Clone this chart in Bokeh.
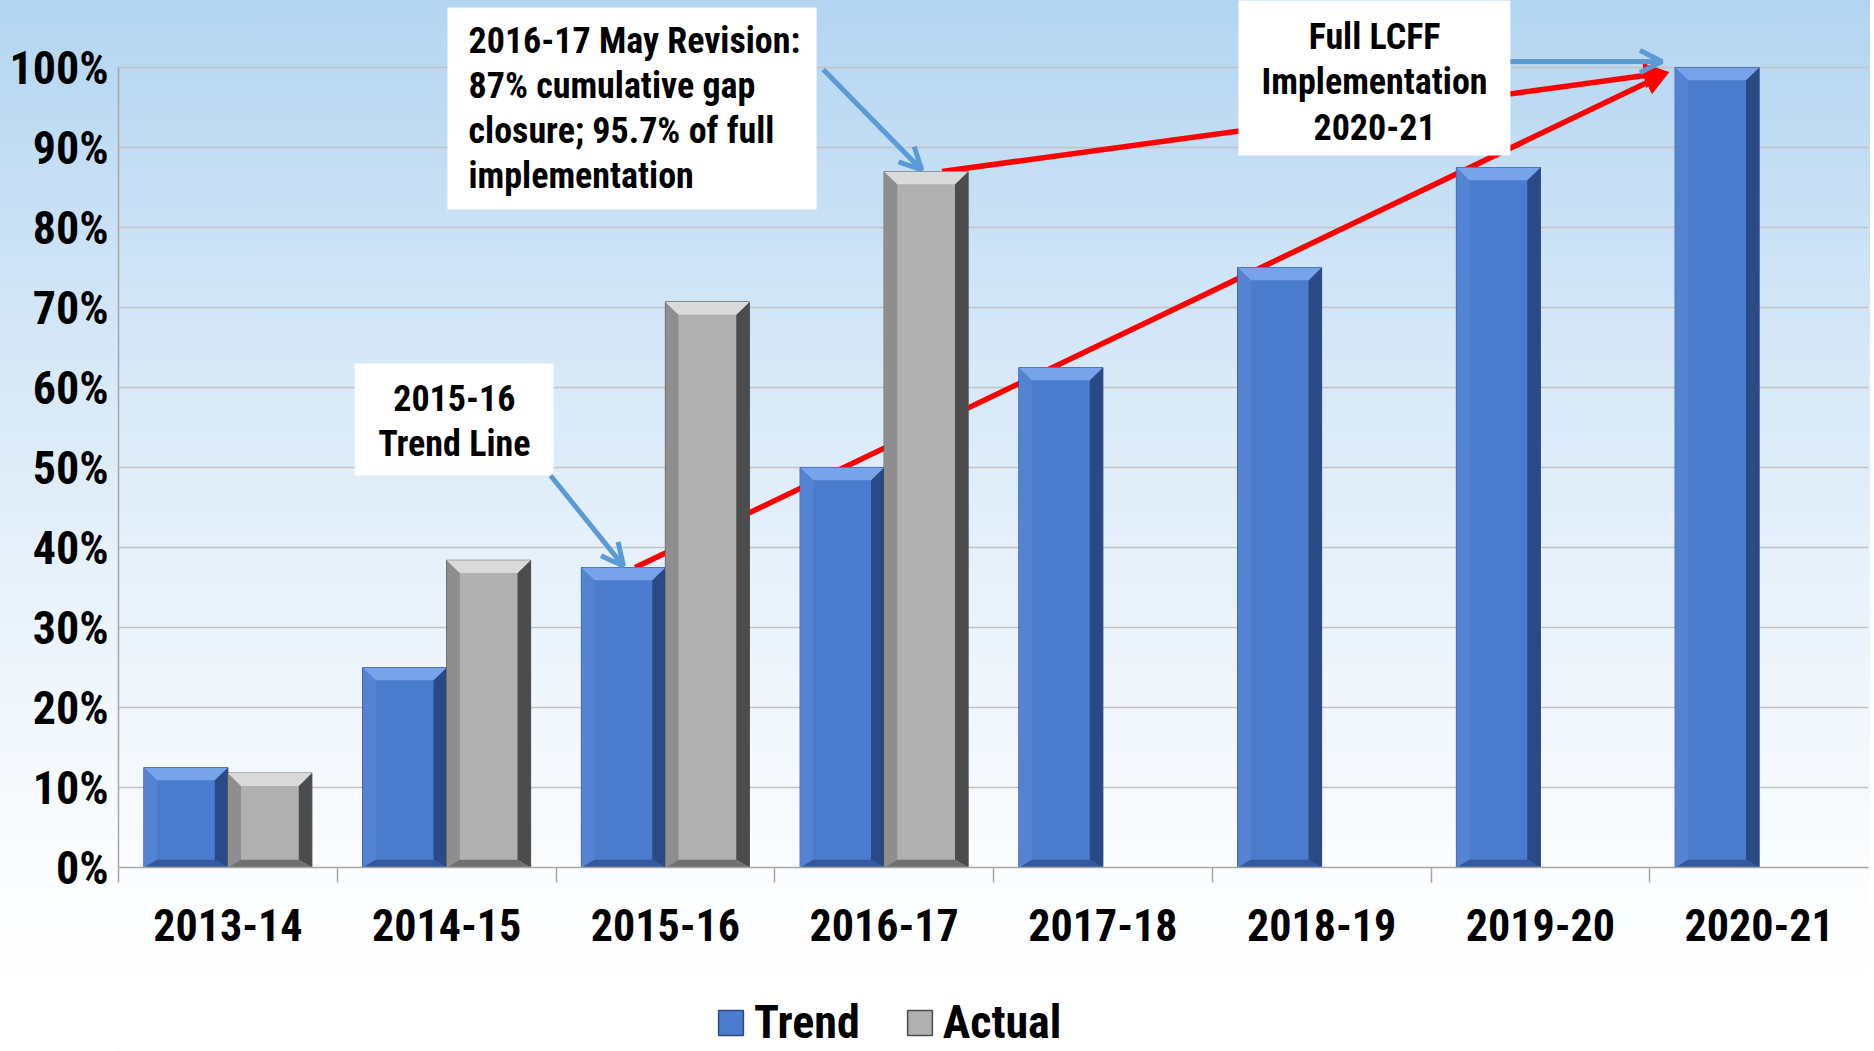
from bokeh.plotting import figure
from bokeh.layouts import column
from bokeh.models import (Range1d, FixedTicker, Legend, LegendItem, Label,
                          BoxAnnotation, Arrow, NormalHead, OpenHead)
from bokeh.embed import file_html
from bokeh.resources import INLINE

# ---------------- data ----------------
years = ["2013-14", "2014-15", "2015-16", "2016-17",
         "2017-18", "2018-19", "2019-20", "2020-21"]
trend = [12.5, 25.0, 37.5, 50.0, 62.5, 75.0, 87.5, 100.0]
actual = [11.8, 38.4, 70.7, 87.0]
y_ticks = [0, 10, 20, 30, 40, 50, 60, 70, 80, 90, 100]
y_tick_labels = ["0%", "10%", "20%", "30%", "40%", "50%",
                 "60%", "70%", "80%", "90%", "100%"]
series_names = ["Trend", "Actual"]

# ---------------- style ----------------
FONT = "Roboto Condensed, Roboto, sans-serif"
BW = 0.384            # bar width in category units
DX, DY = 0.06, 1.6    # bevel size (x in category units, y in %)
BLUE = dict(face="#4a7bcd", top="#76a3ea", left="#5583d3", right="#2a4a86", bottom="#34599c")
GRAY = dict(face="#b0b0b0", top="#dadada", left="#8e8e8e", right="#4c4c4c", bottom="#707070")

p = figure(width=1870, height=993, x_range=Range1d(0, 8), y_range=Range1d(0, 108.375),
           output_backend="svg", toolbar_location=None,
           min_border_left=118, min_border_right=2, min_border_top=0, min_border_bottom=126)
p.background_fill_color = None
p.border_fill_color = None
p.outline_line_color = None
p.styles = {"background-image":
            "linear-gradient(to bottom, #b3d5f1 0%, #d3e6f7 32%, #eaf3fb 62%, #fafcfe 86%, #ffffff 100%)"}

# axes
xa = p.xaxis[0]
xa.ticker = FixedTicker(ticks=[i + 0.5 for i in range(len(years))],
                        minor_ticks=[float(i) for i in range(len(years))])
xa.major_label_overrides = {i + 0.5: y for i, y in enumerate(years)}
xa.major_tick_out = 0
xa.major_tick_in = 0
xa.minor_tick_out = 15
xa.minor_tick_in = 0
xa.minor_tick_line_color = "#a6a6a6"
xa.minor_tick_line_width = 1.5
xa.axis_line_color = "#a6a6a6"
xa.axis_line_width = 1.5
xa.major_label_standoff = 26
xa.major_label_text_font = FONT
xa.major_label_text_font_style = "bold"
xa.major_label_text_font_size = "44px"
xa.major_label_text_color = "black"

ya = p.yaxis[0]
ya.ticker = FixedTicker(ticks=y_ticks)
ya.major_label_overrides = {t: l for t, l in zip(y_ticks, y_tick_labels)}
ya.bounds = (0, 100)
ya.major_tick_out = 0
ya.major_tick_in = 0
ya.minor_tick_out = 0
ya.minor_tick_in = 0
ya.axis_line_color = "#a6a6a6"
ya.axis_line_width = 1.5
ya.major_label_standoff = 10
ya.major_label_text_font = FONT
ya.major_label_text_font_style = "bold"
ya.major_label_text_font_size = "46px"
ya.major_label_text_color = "black"

p.xgrid.visible = False
p.ygrid.grid_line_color = "#c3c3c3"
p.ygrid.grid_line_width = 1.5

# ---------------- red trend arrows (behind bars) ----------------
end_x = len(years) - 0.5 - BW - 0.03
end_y = trend[-1] - 0.6
red1 = Arrow(x_start=2 + 0.5 - BW * 0.36, y_start=trend[2], x_end=end_x, y_end=end_y,
             line_color="#ff0000", line_width=5.5, level="underlay",
             end=NormalHead(size=24, fill_color="#ff0000", line_color="#ff0000"))
red2 = Arrow(x_start=3 + 0.5 + BW * 0.69, y_start=actual[3], x_end=end_x, y_end=end_y,
             line_color="#ff0000", line_width=5.5, level="underlay",
             end=NormalHead(size=24, fill_color="#ff0000", line_color="#ff0000"))
p.add_layout(red1)
p.add_layout(red2)

# ---------------- bars with bevel ----------------
def bevel_sources(xc, tops):
    parts = {k: dict(xs=[], ys=[]) for k in ("top", "bottom", "left", "right")}
    for x, t in zip(xc, tops):
        L, R, B, T = x - BW / 2, x + BW / 2, 0.0, t
        parts["top"]["xs"].append([L, R, R - DX, L + DX])
        parts["top"]["ys"].append([T, T, T - DY, T - DY])
        parts["bottom"]["xs"].append([L, R, R - DX, L + DX])
        parts["bottom"]["ys"].append([B, B, B + DY * 0.6, B + DY * 0.6])
        parts["left"]["xs"].append([L, L + DX, L + DX, L])
        parts["left"]["ys"].append([B, B + DY * 0.6, T - DY, T])
        parts["right"]["xs"].append([R, R - DX, R - DX, R])
        parts["right"]["ys"].append([B, B + DY * 0.6, T - DY, T])
    return parts

def draw_bars(xc, tops, pal):
    r = p.vbar(x=xc, top=tops, bottom=0, width=BW, fill_color=pal["face"],
               line_color=pal["right"], line_width=1)
    parts = bevel_sources(xc, tops)
    for k in ("left", "right", "bottom", "top"):
        p.patches(xs=parts[k]["xs"], ys=parts[k]["ys"], fill_color=pal[k],
                  line_color=None)
    return r

trend_x = [i + 0.5 - BW / 2 for i in range(len(trend))]
actual_x = [i + 0.5 + BW / 2 for i in range(len(actual))]
draw_bars(trend_x, trend, BLUE)
draw_bars(actual_x, actual, GRAY)

# ---------------- annotation boxes ----------------
box_style = dict(fill_color="white", fill_alpha=1.0, line_color=None, level="annotation")
p.add_layout(BoxAnnotation(left=1.504, right=3.191, top=107.5, bottom=82.25, **box_style))
p.add_layout(BoxAnnotation(left=1.079, right=1.989, top=63.0, bottom=49.0, **box_style))
p.add_layout(BoxAnnotation(left=5.120, right=6.363, top=110.0, bottom=89.0, **box_style))

lab_style = dict(text_font=FONT, text_font_style="bold", text_font_size="36px",
                 text_color="black", text_line_height=1.075, text_baseline="top")
p.add_layout(Label(x=1.600, y=105.95, text_align="left",
                   text="2016-17 May Revision:\n87% cumulative gap\nclosure; 95.7% of full\nimplementation",
                   **lab_style))
p.add_layout(Label(x=1.535, y=61.25, text_align="center",
                   text="2015-16\nTrend Line", **lab_style))
p.add_layout(Label(x=5.742, y=106.4, text_align="center",
                   text="Full LCFF\nImplementation\n2020-21", **lab_style))

# ---------------- blue pointer arrows ----------------
BLUE_ARROW = "#5b9bd5"
def blue_arrow(xs, ys, xe, ye):
    p.add_layout(Arrow(x_start=xs, y_start=ys, x_end=xe, y_end=ye,
                       line_color=BLUE_ARROW, line_width=5,
                       end=OpenHead(size=22, line_color=BLUE_ARROW, line_width=5)))

blue_arrow(3.222, 99.75, 3 + 0.5 + BW / 2 - 0.02, actual[3] + 0.2)
blue_arrow(1.975, 49.0, 2 + 0.5 - BW / 2, trend[2] + 0.2)
blue_arrow(6.363, 100.75, 7 + 0.5 - BW - 0.06, trend[7] + 0.75)

# ---------------- legend strip (separate figure below) ----------------
q = figure(width=1870, height=56, x_range=Range1d(0, 1), y_range=Range1d(0, 1),
           output_backend="svg", toolbar_location=None, min_border=0)
q.axis.visible = False
q.grid.visible = False
q.outline_line_color = None
q.background_fill_color = "white"
q.border_fill_color = "white"
# hidden proxies (outside the visible range) that only supply legend swatches
lt = q.vbar(x=[-5], top=[-5], width=0.1, fill_color=BLUE["face"], line_color=BLUE["right"],
            line_width=1.5)
la = q.vbar(x=[-5], top=[-5], width=0.1, fill_color=GRAY["face"], line_color=GRAY["right"],
            line_width=1.5)
legend = Legend(items=[LegendItem(label=series_names[0], renderers=[lt]),
                       LegendItem(label=series_names[1], renderers=[la])],
                orientation="horizontal", location=(597, 0),
                glyph_width=31, glyph_height=31, label_standoff=8, spacing=44,
                padding=0, margin=0, border_line_color=None,
                background_fill_alpha=0,
                label_text_font=FONT, label_text_font_style="bold",
                label_text_font_size="46px", label_text_color="black")
q.add_layout(legend)

layout = column(p, q, spacing=0)
open("out.html", "w").write(file_html(layout, INLINE))
